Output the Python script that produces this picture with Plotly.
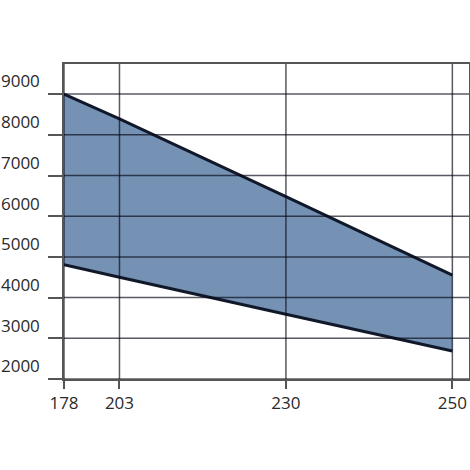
import plotly.graph_objects as go

# Data
x_labels = ["178", "203", "230", "250"]
x_pos = [0, 1, 4, 7]  # tick positions on the (non-uniform) axis
upper = [9000, 8390, 6480, 4550]
lower = [4810, 4500, 3590, 2690]
y_ticks = [2000, 3000, 4000, 5000, 6000, 7000, 8000, 9000]

fill_color = "#7592b4"
line_color = "#10182a"
grid_color = "rgba(10,10,25,0.68)"

fig = go.Figure()
fig.add_trace(go.Scatter(x=x_pos, y=lower, mode="lines",
                         line=dict(color=line_color, width=3), showlegend=False,
                         hoverinfo="skip"))
fig.add_trace(go.Scatter(x=x_pos, y=upper, mode="lines", fill="tonexty",
                         fillcolor=fill_color,
                         line=dict(color=line_color, width=3), showlegend=False,
                         hoverinfo="skip"))

shapes = []
for yv in y_ticks:
    shapes.append(dict(type="line", xref="paper", yref="y", x0=0, x1=1, y0=yv, y1=yv,
                       line=dict(color=grid_color, width=1.5), layer="above"))
for xv in x_pos:
    shapes.append(dict(type="line", xref="x", yref="paper", x0=xv, x1=xv, y0=0, y1=1,
                       line=dict(color=grid_color, width=1.5), layer="above"))

fig.update_layout(
    width=470, height=470,
    margin=dict(l=64, r=1, t=64, b=91, autoexpand=False),
    paper_bgcolor="white", plot_bgcolor="white",
    font=dict(family="Open Sans", size=17, color="#2a2a2a"),
    shapes=shapes,
    xaxis=dict(range=[0, 7.3], tickvals=x_pos, ticktext=x_labels,
               showgrid=False, zeroline=False, automargin=False,
               showline=True, linecolor="#555555", linewidth=1.5, mirror=True,
               ticks="outside", ticklen=8, tickwidth=1.5, tickcolor="#555555",
               ticklabelstandoff=0),
    yaxis=dict(range=[2000, 9740], tickvals=y_ticks,
               showgrid=False, zeroline=False, automargin=False,
               showline=True, linecolor="#555555", linewidth=1.5, mirror=True,
               ticks="outside", ticklen=14, tickwidth=1.5, tickcolor="#555555",
               ticklabelposition="outside top", ticklabelstandoff=19),
)

fig.write_html("out.html", config={"displayModeBar": False},
               post_script="document.body.style.margin='0';document.body.style.overflow='hidden';")
